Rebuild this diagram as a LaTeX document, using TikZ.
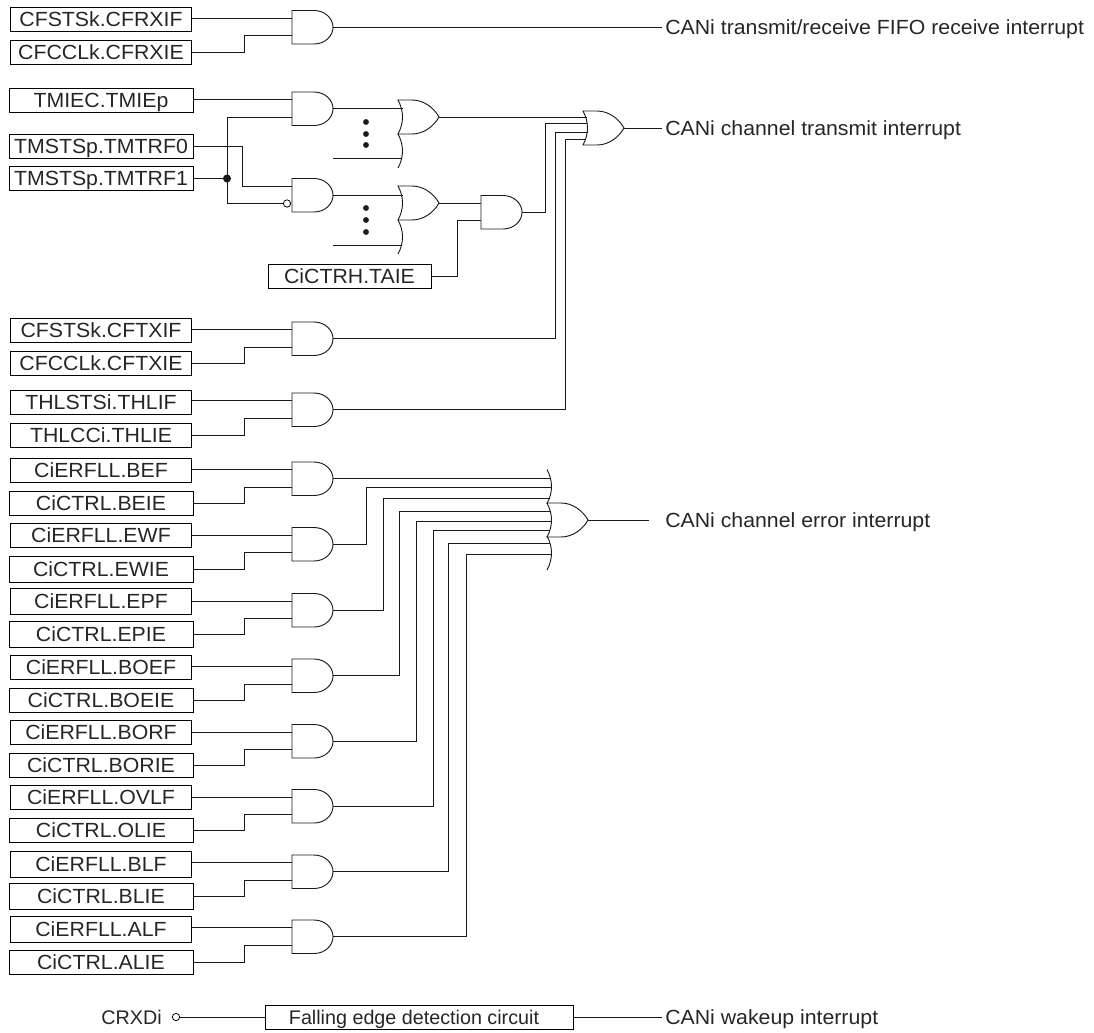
\documentclass[tikz,border=0pt]{standalone}
\usepackage{fontspec}
\setmainfont[FakeStretch=1.04]{Liberation Sans}
\newfontfamily\plainsans{Liberation Sans}
\tikzset{
  wire/.style={line width=0.7pt,black!90},
  regbox/.style={draw,line width=0.7pt,inner sep=0pt,minimum width=135.75pt,minimum height=18pt,text height=11pt,text depth=0pt,text=black!85},
  regwide/.style={regbox,minimum width=138pt},
  regtall/.style={minimum height=19.5pt},
  outtext/.style={anchor=west,inner sep=2.25pt,text height=11pt,text depth=0pt,text=black!85},
  bubble/.style={draw,circle,fill=white,line width=0.6pt,inner sep=0pt,minimum size=5.5pt},
  andgate/.pic={
    \draw[wire] (0,0) -- (22,0) .. controls (33,0) and (41,8) .. (41,16.75) .. controls (41,25.5) and (33,33.5) .. (22,33.5) -- (0,33.5) -- cycle;
    \coordinate (-a) at (0,7.5);
    \coordinate (-b) at (0,25);
    \coordinate (-o) at (41,16.75);
  },
  orback/.pic={
    \draw[wire] (0,0) .. controls (6,11) and (6,23) .. (0,34);
  },
  orgate/.pic={
    \draw[wire] (0,0) .. controls (6,11) and (6,23) .. (0,34) -- (14,34) .. controls (26,34) and (36,26) .. (41,17) .. controls (36,8) and (26,0) .. (14,0) -- cycle;
    \coordinate (-o) at (41,17);
  },
}
\begin{document}
\begin{tikzpicture}[x=0.75pt,y=-0.75pt,font=\fontsize{15.35}{17}\selectfont]
\useasboundingbox (0,0) rectangle (1094,1032);
\node[regbox] (rxif) at (101,19.5) {CFSTSk.CFRXIF};
\node[regbox] (rxie) at (101,52) {CFCCLk.CFRXIE};
\node[regwide] (tmie) at (101,100.5) {TMIEC.TMIEp};
\node[regwide] (trf0) at (101,146.5) {TMSTSp.TMTRF0};
\node[regwide] (trf1) at (101,178.5) {TMSTSp.TMTRF1};
\node[regbox,minimum width=122.25pt] (taie) at (349.5,276) {CiCTRH.TAIE};
\node[regbox] (txif) at (101,330.5) {CFSTSk.CFTXIF};
\node[regbox] (txie) at (101,363) {CFCCLk.CFTXIE};
\node[regbox] (thif) at (101,402) {THLSTSi.THLIF};
\node[regbox] (thie) at (101,435) {THLCCi.THLIE};
\node[regbox] (bef) at (101,470) {CiERFLL.BEF};
\node[regwide] (beie) at (101,503) {CiCTRL.BEIE};
\node[regbox] (ewf) at (101,535) {CiERFLL.EWF};
\node[regwide,regtall] (ewie) at (101,569) {CiCTRL.EWIE};
\node[regbox,regtall] (epf) at (101,601) {CiERFLL.EPF};
\node[regwide,regtall] (epie) at (101,634) {CiCTRL.EPIE};
\node[regbox] (boef) at (101,667.5) {CiERFLL.BOEF};
\node[regwide] (boeie) at (101,700) {CiCTRL.BOEIE};
\node[regbox] (borf) at (101,732.5) {CiERFLL.BORF};
\node[regwide] (borie) at (101,765) {CiCTRL.BORIE};
\node[regbox] (ovlf) at (101,797) {CiERFLL.OVLF};
\node[regwide] (olie) at (101,830) {CiCTRL.OLIE};
\node[regbox,regtall] (blf) at (101,864) {CiERFLL.BLF};
\node[regwide,regtall] (blie) at (101,896) {CiCTRL.BLIE};
\node[regbox,regtall] (alf) at (101,929) {CiERFLL.ALF};
\node[regwide] (alie) at (101,962.5) {CiCTRL.ALIE};
\pic (grx) at (292,10.5) {andgate};
\pic (gtma) at (292,92) {andgate};
\pic (gtmb) at (292,178.5) {andgate};
\pic (gta) at (481,195.5) {andgate};
\pic (gtx) at (292,322) {andgate};
\pic (gth) at (292,393) {andgate};
\pic (gbef) at (292,462) {andgate};
\pic (gewf) at (292,527.5) {andgate};
\pic (gepf) at (292,593.5) {andgate};
\pic (gboef) at (292,659) {andgate};
\pic (gborf) at (292,724.5) {andgate};
\pic (govlf) at (292,789.5) {andgate};
\pic (gblf) at (292,855) {andgate};
\pic (galf) at (292,920) {andgate};
\pic (ora) at (398,100) {orgate};
\pic at (398,134) {orback};
\pic (orb) at (398,186) {orgate};
\pic at (398,220) {orback};
\pic (orm) at (583,111) {orgate};
\pic at (547,469.5) {orback};
\pic (ore) at (547,503) {orgate};
\pic at (547,536) {orback};
\node[outtext] (lrx) at (662,27.25) {CANi transmit/receive FIFO receive interrupt};
\node[outtext] (ltx) at (662,128) {CANi channel transmit interrupt};
\node[outtext] (ler) at (662,520) {CANi channel error interrupt};
\node[regbox,minimum width=231pt,font=\fontsize{14.8}{17}\plainsans] (fall) at (419,1017) {Falling edge detection circuit\hspace{7.5pt}\mbox{}};
\node[outtext] (lwk) at (662,1017) {CANi wakeup interrupt};
\node[outtext,anchor=east,font=\fontsize{14.8}{17}\plainsans] (rxd) at (165,1017) {CRXDi};
\node[bubble] (pin) at (176,1017) {};
\node[bubble] (inv) at (287,203.5) {};
\coordinate (stuba) at (333,158);
\coordinate (enda) at (402,158);
\coordinate (stubb) at (333,245);
\coordinate (endb) at (402,245);
\coordinate (jn) at (227,178.5);
\coordinate (m1) at (587,117);
\coordinate (m2) at (587,123);
\coordinate (m3) at (588,132);
\coordinate (m4) at (586,139);
\coordinate (e1) at (550,478.75);
\coordinate (e2) at (551,487);
\coordinate (e3) at (550,498);
\coordinate (e4) at (550,511);
\coordinate (e5) at (551,521);
\coordinate (e6) at (550,530);
\coordinate (e7) at (550,543);
\coordinate (e8) at (551,554);
\begin{scope}[wire]
\draw (grx-a -| rxif.east) -- (grx-a);
\draw (grx-b) -- ++(-48,0) |- (rxie.east);
\draw (grx-o) -- (lrx.west);
\draw (gtma-a -| tmie.east) -- (gtma-a);
\draw (gtma-b) -- ++(-65,0) |- (inv.west);
\draw (gtmb-a) -- ++(-50,0) |- (trf0.east);
\draw (trf1.east) -- (jn);
\fill (jn) circle (3pt);
\draw (gtma-o) -- ++(70,0);
\draw (stuba) -- (enda);
\draw (gtmb-o) -- ++(70,0);
\draw (stubb) -- (endb);
\fill (366,122) circle (2.2pt);
\fill (366,134) circle (2.2pt);
\fill (366,145) circle (2.2pt);
\fill (366,208) circle (2.2pt);
\fill (366,220) circle (2.2pt);
\fill (366,232) circle (2.2pt);
\draw (ora-o) -- (m1);
\draw (orb-o) -- (gta-a);
\draw (gta-b) -- ++(-24,0) |- (taie.east);
\draw (gta-o) -- ++(23,0) |- (m2);
\draw (gtx-a -| txif.east) -- (gtx-a);
\draw (gtx-b) -- ++(-48,0) |- (txie.east);
\draw (gtx-o) -- ++(222,0) |- (m3);
\draw (gth-a -| thif.east) -- (gth-a);
\draw (gth-b) -- ++(-48,0) |- (thie.east);
\draw (gth-o) -- ++(232,0) |- (m4);
\draw (orm-o) -- (ltx.west);
\draw (gbef-a -| bef.east) -- (gbef-a);
\draw (gbef-b) -- ++(-48,0) |- (beie.east);
\draw (gbef-o) -- (e1);
\draw (gewf-a -| ewf.east) -- (gewf-a);
\draw (gewf-b) -- ++(-48,0) |- (ewie.east);
\draw (gewf-o) -- ++(33,0) |- (e2);
\draw (gepf-a -| epf.east) -- (gepf-a);
\draw (gepf-b) -- ++(-48,0) |- (epie.east);
\draw (gepf-o) -- ++(50,0) |- (e3);
\draw (gboef-a -| boef.east) -- (gboef-a);
\draw (gboef-b) -- ++(-48,0) |- (boeie.east);
\draw (gboef-o) -- ++(66,0) |- (e4);
\draw (gborf-a -| borf.east) -- (gborf-a);
\draw (gborf-b) -- ++(-48,0) |- (borie.east);
\draw (gborf-o) -- ++(83,0) |- (e5);
\draw (govlf-a -| ovlf.east) -- (govlf-a);
\draw (govlf-b) -- ++(-48,0) |- (olie.east);
\draw (govlf-o) -- ++(100,0) |- (e6);
\draw (gblf-a -| blf.east) -- (gblf-a);
\draw (gblf-b) -- ++(-48,0) |- (blie.east);
\draw (gblf-o) -- ++(115,0) |- (e7);
\draw (galf-a -| alf.east) -- (galf-a);
\draw (galf-b) -- ++(-48,0) |- (alie.east);
\draw (galf-o) -- ++(133,0) |- (e8);
\draw[shorten >=10pt] (ore-o) -- (ler.west);
\draw (pin.east) -- (fall.west);
\draw (fall.east) -- (lwk.west);
\end{scope}
\end{tikzpicture}
\end{document}
